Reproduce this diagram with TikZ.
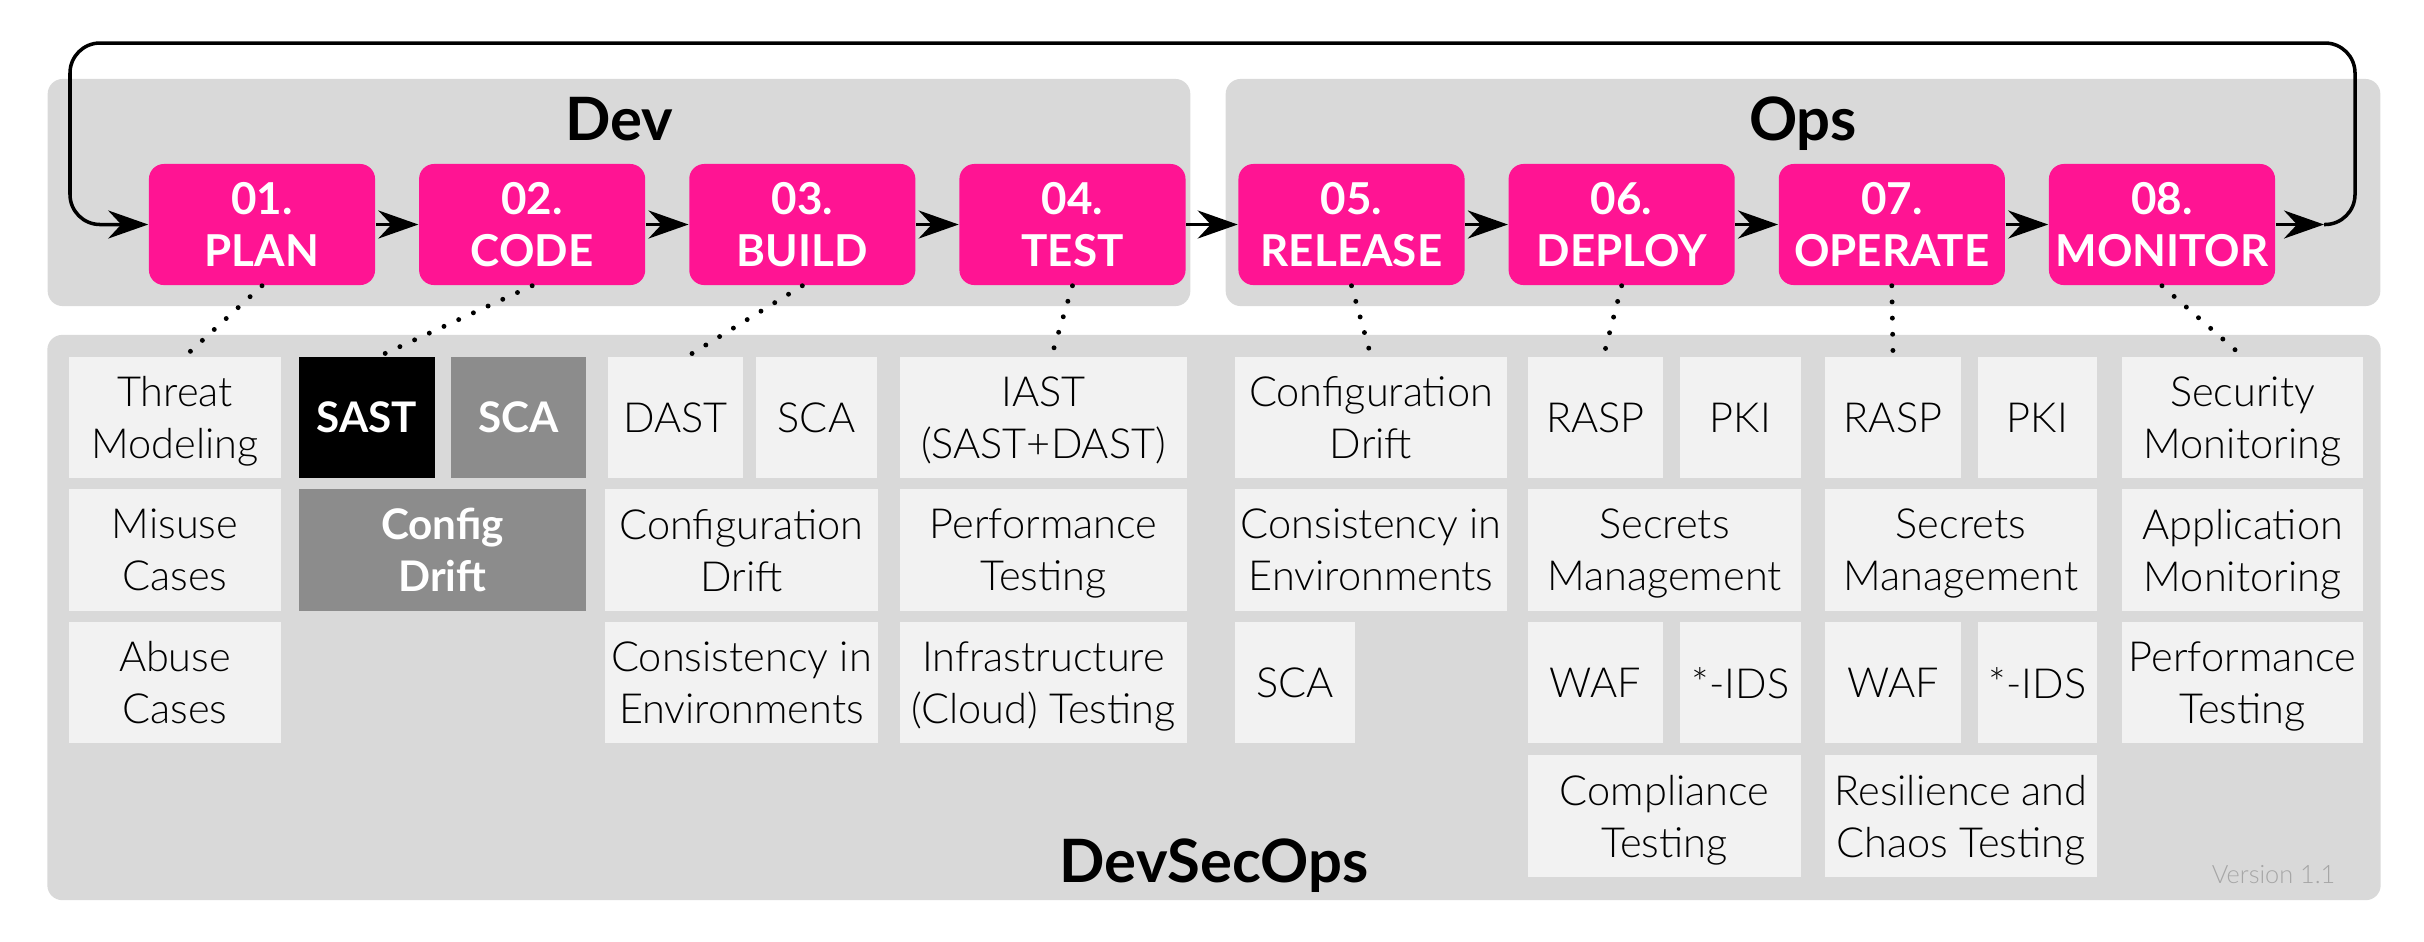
\documentclass[tikz,border=0pt]{standalone}
\usepackage{fontspec}
\setmainfont{Lato}
\newfontfamily\lightfont{Lato Light}
\usetikzlibrary{arrows.meta,positioning}

\definecolor{stagepink}{HTML}{FF1493}
\definecolor{panelgrey}{HTML}{D9D9D9}
\definecolor{cellgrey}{HTML}{F2F2F2}
\definecolor{darkcell}{HTML}{8C8C8C}
\definecolor{versiongrey}{HTML}{A6A6A6}

\tikzset{
  panel/.style={fill=panelgrey, rounded corners=0.15cm, inner sep=0pt},
  title/.style={anchor=base, font=\bfseries\fontsize{17}{20}\selectfont},
  stage/.style={fill=stagepink, text=white, rounded corners=0.15cm, minimum width=2.26cm,
    minimum height=1.21cm, inner sep=0pt, align=center, font=\bfseries\fontsize{12.5}{15}\selectfont},
  cell/.style={fill=cellgrey, minimum height=1.21cm, inner sep=0pt, align=center, text depth=0pt,
    font=\lightfont\fontsize{11.8}{14.8}\selectfont},
  hot/.style={cell, text=white, font=\bfseries\fontsize{12}{14.8}\selectfont},
}

\begin{document}
\begin{tikzpicture}[x=0.01cm,y=-0.01cm,>={Stealth[length=0.4cm,width=0.28cm,inset=0.13cm]},
    node distance=2.7cm,
    flow/.style={->, line width=1pt},
    dots/.style={line width=1.4pt, line cap=round, dash pattern=on 0pt off 4.6pt}]
    \useasboundingbox (0,0) rectangle (2424,941);

    % panels
    \node[panel, minimum width=11.42cm, minimum height=2.27cm]  (devpanel) at (619,192.5)  {};
    \node[panel, minimum width=11.54cm, minimum height=2.27cm]  (opspanel) at (1803,192.5) {};
    \node[panel, minimum width=23.32cm, minimum height=5.65cm]  (secpanel) at (1214,617.5) {};
    \node[title] (dev) at (619,140)  {Dev};
    \node[title] (ops) at (1803,140) {Ops};
    \node[title] (devsecops) at (1214,882) {DevSecOps};
    \node[anchor=base east, inner sep=0pt, text=versiongrey, font=\lightfont\fontsize{7.2}{8}\selectfont]
        (version) at (2336,883) {Version 1.1};

    % stages
    \node[stage] (1) at (262,224.5)   {01.\\PLAN};
    \node[stage] (2) [right of=1]     {02.\\CODE};
    \node[stage] (3) [right of=2]     {03.\\BUILD};
    \node[stage] (4) [right of=3]     {04.\\TEST};
    \node[stage] (5) at (1351.5,224.5) {05.\\RELEASE};
    \node[stage] (6) [right of=5]     {06.\\DEPLOY};
    \node[stage] (7) [right of=6]     {07.\\OPERATE};
    \node[stage] (8) [right of=7]     {08.\\MONITOR};
    \coordinate (back) at (2324,224.5);

    % plan
    \node[cell, minimum width=2.12cm] (threat) at (175,417.5) {Threat\\Modeling};
    \node[cell, minimum width=2.12cm] (misuse) at (175,550)   {Misuse\\Cases};
    \node[cell, minimum width=2.12cm] (abuse)  at (175,682.5) {Abuse\\Cases};
    % code
    \node[hot, fill=black, minimum width=1.36cm]    (sast)  at (367,417.5)   {SAST};
    \node[hot, fill=darkcell, minimum width=1.35cm] (sca2)  at (518.5,417.5) {SCA};
    \node[hot, fill=darkcell, minimum width=2.87cm] (cfg2)  at (442.5,550)   {Config\\Drift};
    % build
    \node[cell, minimum width=1.35cm] (dast)   at (675.5,417.5) {DAST};
    \node[cell, minimum width=1.21cm] (sca3)   at (816.5,417.5) {SCA};
    \node[cell, minimum width=2.72cm] (drift3) at (741.5,550)   {Configuration\\Drift};
    \node[cell, minimum width=2.72cm] (cons3)  at (741.5,682.5) {Consistency in\\Environments};
    % test
    \node[cell, minimum width=2.87cm] (iast)   at (1043.5,417.5) {IAST\\(SAST+DAST)};
    \node[cell, minimum width=2.87cm] (perf4)  at (1043.5,550)   {Performance\\Testing};
    \node[cell, minimum width=2.87cm] (infra4) at (1043.5,682.5) {Infrastructure\\(Cloud) Testing};
    % release
    \node[cell, minimum width=2.72cm] (drift5) at (1371,417.5) {Configuration\\Drift};
    \node[cell, minimum width=2.72cm] (cons5)  at (1371,550)   {Consistency in\\Environments};
    \node[cell, minimum width=1.20cm] (sca5)   at (1295,682.5) {SCA};
    % deploy
    \node[cell, minimum width=1.35cm] (rasp6) at (1595.5,417.5) {RASP};
    \node[cell, minimum width=1.21cm] (pki6)  at (1740.5,417.5) {PKI};
    \node[cell, minimum width=2.73cm] (sec6)  at (1664.5,550)   {Secrets\\Management};
    \node[cell, minimum width=1.35cm] (waf6)  at (1595.5,682.5) {WAF};
    \node[cell, minimum width=1.21cm] (ids6)  at (1740.5,682.5) {*-IDS};
    \node[cell, minimum width=2.73cm] (comp6) at (1664.5,816)   {Compliance\\Testing};
    % operate
    \node[cell, minimum width=1.36cm] (rasp7)  at (1893,417.5)   {RASP};
    \node[cell, minimum width=1.19cm] (pki7)   at (2037.5,417.5) {PKI};
    \node[cell, minimum width=2.72cm] (sec7)   at (1961,550)     {Secrets\\Management};
    \node[cell, minimum width=1.36cm] (waf7)   at (1893,682.5)   {WAF};
    \node[cell, minimum width=1.19cm] (ids7)   at (2037.5,682.5) {*-IDS};
    \node[cell, minimum width=2.72cm] (chaos7) at (1961,816)     {Resilience and\\Chaos Testing};
    % monitor
    \node[cell, minimum width=2.41cm] (secmon) at (2242.5,417.5) {Security\\Monitoring};
    \node[cell, minimum width=2.41cm] (appmon) at (2242.5,550)   {Application\\Monitoring};
    \node[cell, minimum width=2.41cm] (perf8)  at (2242.5,682.5) {Performance\\Testing};

    % flow
    \draw[flow] (1) -- (2);
    \draw[flow] (2) -- (3);
    \draw[flow] (3) -- (4);
    \draw[flow] (4) -- (5);
    \draw[flow] (5) -- (6);
    \draw[flow] (6) -- (7);
    \draw[flow] (7) -- (8);
    \draw[flow] (8) -- (back);
    \draw[flow, rounded corners=0.3cm] (back) -- (2355,224.5) |- (70,43) |- (1);

    % dotted links
    \draw[dots] (1.south) -- ([xshift=0.1cm]threat.north);
    \draw[dots] (2.south) -- ([xshift=0.12cm]sast.north);
    \draw[dots] (3.south) -- ([xshift=0.12cm]dast.north);
    \draw[dots] (4.south) -- ([xshift=0.08cm]iast.north);
    \draw[dots] (5.south) -- (drift5.north);
    \draw[dots] (6.south) -- ([xshift=0.08cm]rasp6.north);
    \draw[dots] (7.south) -- (rasp7.north);
    \draw[dots] (8.south) -- (secmon.north);
\end{tikzpicture}
\end{document}
